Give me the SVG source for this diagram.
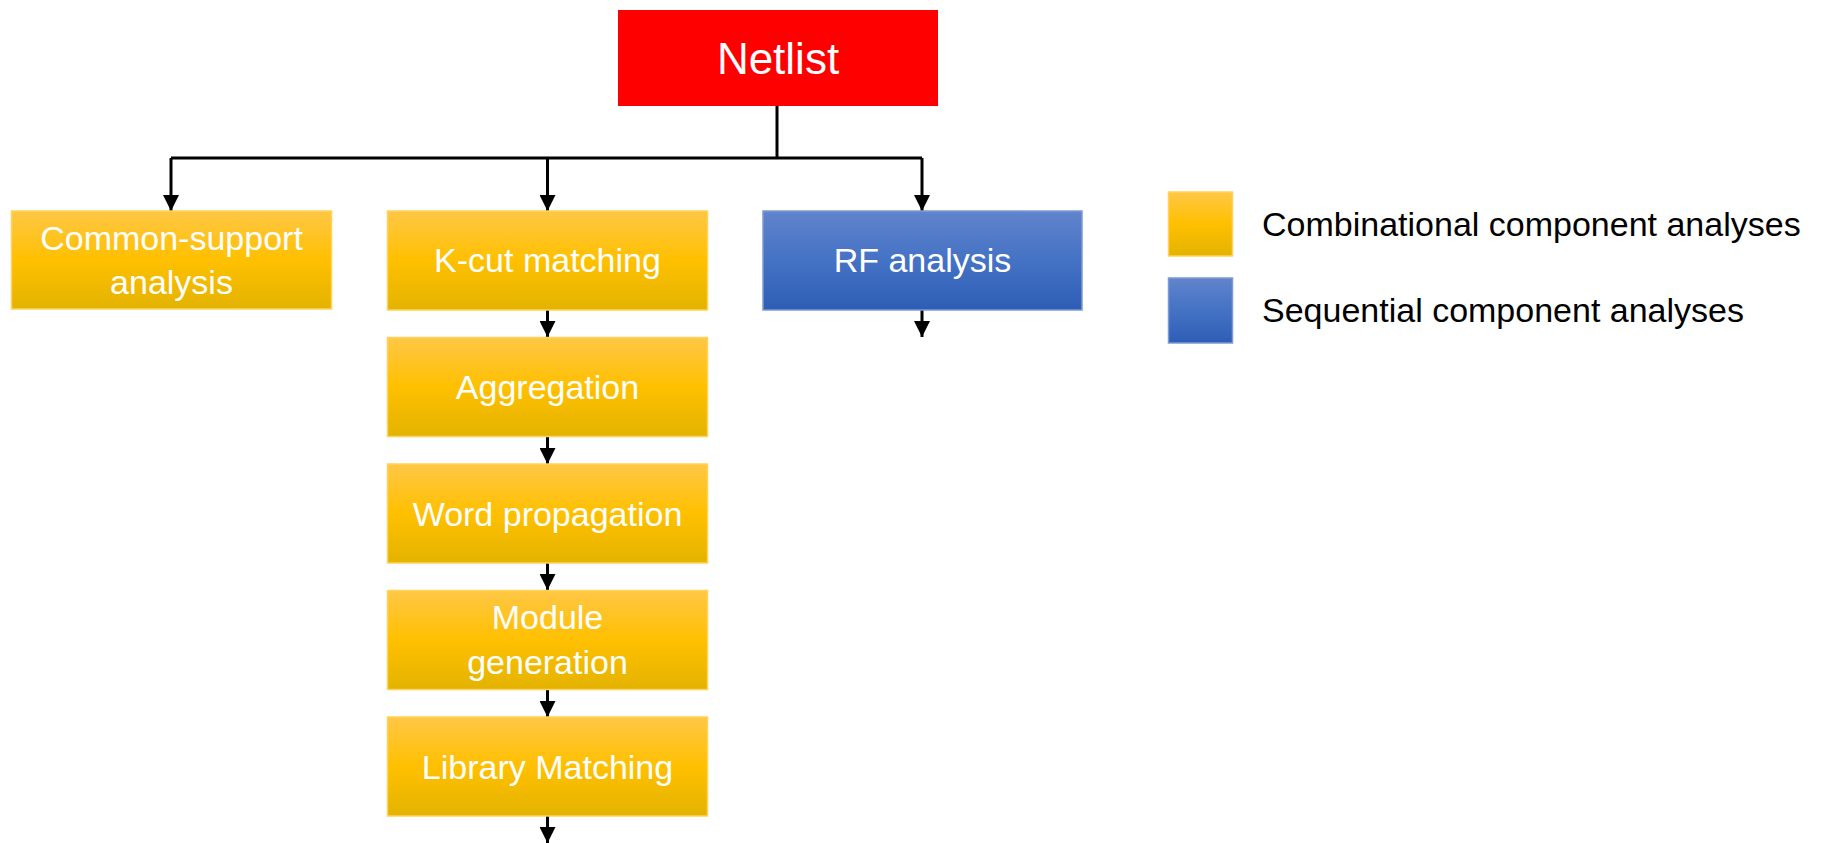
<svg xmlns="http://www.w3.org/2000/svg" width="1828" height="843" viewBox="0 0 1828 843">
  <defs>
    <linearGradient id="gold" x1="0" y1="0" x2="0" y2="1">
      <stop offset="0" stop-color="#FFC746"/>
      <stop offset="0.5" stop-color="#FFC000"/>
      <stop offset="1" stop-color="#E3B300"/>
    </linearGradient>
    <linearGradient id="blue" x1="0" y1="0" x2="0" y2="1">
      <stop offset="0" stop-color="#6184CC"/>
      <stop offset="0.5" stop-color="#4472C4"/>
      <stop offset="1" stop-color="#2E5DB6"/>
    </linearGradient>
    <marker id="arrow" viewBox="0 0 10 10" refX="10" refY="5" markerWidth="16" markerHeight="16" markerUnits="userSpaceOnUse" orient="auto">
      <path d="M0,0 L10,5 L0,10 Z" fill="#000"/>
    </marker>
  </defs>
  <style>
    .comb { fill: url(#gold); stroke: #FFD35A; stroke-width: 1.5; }
    .seq { fill: url(#blue); stroke: #7E9AD4; stroke-width: 1.5; }
    .root { fill: #FF0000; }
    .lbl { font-family: "Liberation Sans", Arial, sans-serif; font-size: 34px; fill: #FFFFFF; text-anchor: middle; }
    .big { font-size: 44px; }
    .leg { font-family: "Liberation Sans", Arial, sans-serif; font-size: 34px; fill: #000000; }
    .wire { fill: none; stroke: #000; stroke-width: 3; }
  </style>
  <rect width="1828" height="843" fill="#FFFFFF"/>

  <!-- connectors -->
  <g id="connectors">
    <path class="wire" d="M777,106 V158"/>
    <path class="wire" d="M171,158 H922"/>
    <path class="wire" d="M171,158 V211" marker-end="url(#arrow)"/>
    <path class="wire" d="M547.5,158 V211" marker-end="url(#arrow)"/>
    <path class="wire" d="M922,158 V211" marker-end="url(#arrow)"/>
    <path class="wire" d="M922,310 V337" marker-end="url(#arrow)"/>
    <path class="wire" d="M547.5,310 V337" marker-end="url(#arrow)"/>
    <path class="wire" d="M547.5,437 V464" marker-end="url(#arrow)"/>
    <path class="wire" d="M547.5,563 V590" marker-end="url(#arrow)"/>
    <path class="wire" d="M547.5,689 V717" marker-end="url(#arrow)"/>
    <path class="wire" d="M547.5,816 V843" marker-end="url(#arrow)"/>
  </g>

  <g id="netlist">
    <rect class="root" x="618" y="10" width="320" height="96"/>
    <text class="lbl big" x="778" y="74">Netlist</text>
  </g>

  <g id="common-support">
    <rect class="comb" x="11.5" y="211" width="320" height="98"/>
    <text class="lbl" x="171.5" y="250">Common-support</text>
    <text class="lbl" x="171.5" y="294">analysis</text>
  </g>

  <g id="k-cut">
    <rect class="comb" x="387.5" y="211" width="320" height="99"/>
    <text class="lbl" x="547.5" y="272">K-cut matching</text>
  </g>

  <g id="rf">
    <rect class="seq" x="763" y="211" width="319" height="99"/>
    <text class="lbl" x="922.5" y="272">RF analysis</text>
  </g>

  <g id="aggregation">
    <rect class="comb" x="387.5" y="337.5" width="320" height="99"/>
    <text class="lbl" x="547.5" y="399">Aggregation</text>
  </g>

  <g id="word-propagation">
    <rect class="comb" x="387.5" y="464" width="320" height="99"/>
    <text class="lbl" x="547.5" y="526">Word propagation</text>
  </g>

  <g id="module-generation">
    <rect class="comb" x="387.5" y="590.5" width="320" height="99"/>
    <text class="lbl" x="547.5" y="629">Module</text>
    <text class="lbl" x="547.5" y="674">generation</text>
  </g>

  <g id="library-matching">
    <rect class="comb" x="387.5" y="717" width="320" height="99"/>
    <text class="lbl" x="547.5" y="779">Library Matching</text>
  </g>

  <!-- legend -->
  <g id="legend">
    <rect class="comb" x="1168.5" y="192" width="64" height="64"/>
    <text class="leg" x="1262" y="236">Combinational component analyses</text>
    <rect class="seq" x="1168.5" y="278" width="64" height="65"/>
    <text class="leg" x="1262" y="322">Sequential component analyses</text>
  </g>
</svg>
